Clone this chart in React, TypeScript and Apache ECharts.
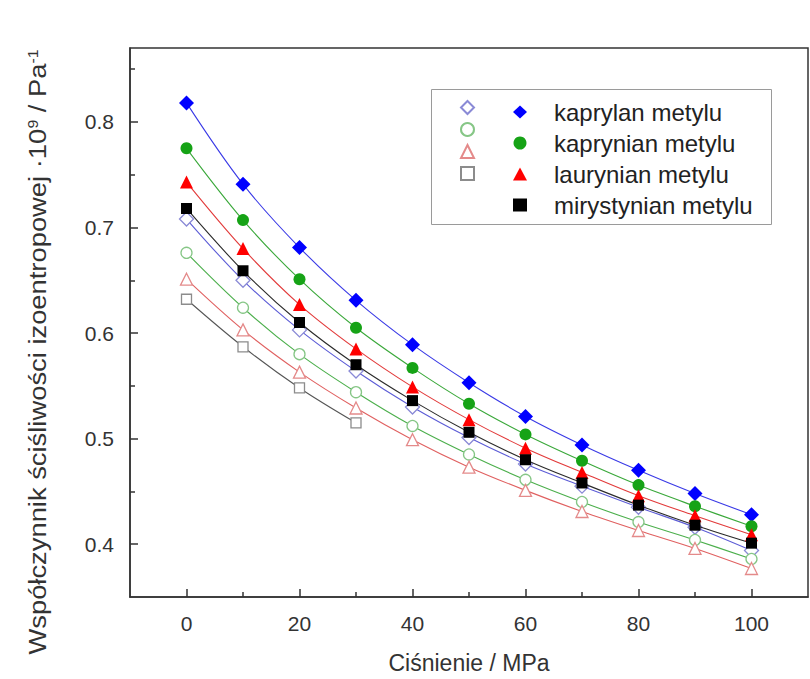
import React, { useEffect, useRef } from 'react';
import * as echarts from 'echarts';

// ---------- data ----------
const pressure = [0, 10, 20, 30, 40, 50, 60, 70, 80, 90, 100];
const seriesNames = ['kaprylan metylu', 'kaprynian metylu', 'laurynian metylu', 'mirystynian metylu'];
const openNames = ['kaprylan metylu (o)', 'kaprynian metylu (o)', 'laurynian metylu (o)', 'mirystynian metylu (o)'];

const kaprylanFilled = [0.818, 0.741, 0.681, 0.631, 0.589, 0.553, 0.521, 0.494, 0.470, 0.448, 0.428];
const kaprynianFilled = [0.775, 0.707, 0.651, 0.605, 0.567, 0.533, 0.504, 0.479, 0.456, 0.436, 0.417];
const laurynianFilled = [0.743, 0.680, 0.627, 0.585, 0.549, 0.518, 0.491, 0.468, 0.446, 0.427, 0.409];
const mirystynianFilled = [0.718, 0.659, 0.610, 0.570, 0.536, 0.506, 0.480, 0.458, 0.437, 0.418, 0.401];

const kaprylanOpen = [0.708, 0.650, 0.603, 0.564, 0.530, 0.501, 0.476, 0.455, 0.435, 0.416, 0.394];
const kaprynianOpen = [0.676, 0.624, 0.580, 0.544, 0.512, 0.485, 0.461, 0.440, 0.421, 0.404, 0.386];
const laurynianOpen = [0.651, 0.603, 0.563, 0.529, 0.499, 0.473, 0.451, 0.431, 0.413, 0.396, 0.377];
const mirystynianOpen = [0.632, 0.587, 0.548, 0.515];

const xMajorTicks = [0, 20, 40, 60, 80, 100];
const xMinorTicks = [10, 30, 50, 70, 90];
const yMajorTicks = [0.4, 0.5, 0.6, 0.7, 0.8];
const yMinorTicks = [0.45, 0.55, 0.65, 0.75, 0.85];

// ---------- styles ----------
const FONT = '"Liberation Sans", Arial, sans-serif';
const AXIS = '#333';
const symbols = ['diamond', 'circle', 'triangle', 'rect'];
const symbolSizes = [15, 12, 13, 11];
const filledColors = ['#0000ff', '#16a316', '#ff0000', '#000000'];
const filledLineColors = ['#3a3ae6', '#3aa83a', '#e23a3a', '#2a2a2a'];
const openColors = ['#8a8ad6', '#86c686', '#e48a8a', '#8c8c8c'];
const openLineColors = ['#5c5cd6', '#4caf4c', '#e06060', '#555555'];

const toPairs = (ys: number[]) => ys.map((y, i) => [pressure[i], y]);

export default function App() {
  const ref = useRef<HTMLDivElement>(null);

  useEffect(() => {
    document.body.style.margin = '0';
    if (!ref.current) return;
    const chart = echarts.init(ref.current, undefined, { renderer: 'svg' });

    const openData = [kaprylanOpen, kaprynianOpen, laurynianOpen, mirystynianOpen];
    const filledData = [kaprylanFilled, kaprynianFilled, laurynianFilled, mirystynianFilled];

    const openSeries = openData.map((d, i) => ({
      name: openNames[i],
      type: 'line',
      data: toPairs(d),
      smooth: 0.35,
      symbol: symbols[i],
      symbolSize: symbolSizes[i] - 1,
      itemStyle: { color: '#ffffff', borderColor: openColors[i], borderWidth: 1.3 },
      lineStyle: { color: openLineColors[i], width: 1.1 },
      z: 2,
    }));
    const filledSeries = filledData.map((d, i) => ({
      name: seriesNames[i],
      type: 'line',
      data: toPairs(d),
      smooth: 0.35,
      symbol: symbols[i],
      symbolSize: symbolSizes[i],
      itemStyle: { color: filledColors[i] },
      lineStyle: { color: filledLineColors[i], width: 1.1 },
      z: 3,
    }));

    const tickLabel = { fontSize: 21, color: AXIS, fontFamily: FONT };
    const tickLine = { color: AXIS, width: 1.5 };

    chart.setOption({
      animation: false,
      backgroundColor: '#ffffff',
      grid: { left: 130, top: 48, right: 2, bottom: 80, show: true, borderColor: AXIS, borderWidth: 1.5 },
      xAxis: [
        {
          type: 'value', min: -10, max: 110, position: 'bottom',
          name: 'Ciśnienie / MPa', nameLocation: 'middle', nameGap: 54,
          nameTextStyle: { fontSize: 23, color: AXIS, fontFamily: FONT },
          axisLine: { show: true, onZero: false, lineStyle: tickLine },
          axisTick: { show: true, inside: true, length: 8, customValues: xMajorTicks, lineStyle: tickLine },
          axisLabel: { ...tickLabel, margin: 16, customValues: xMajorTicks },
          splitLine: { show: false },
        },
        {
          type: 'value', min: -10, max: 110, position: 'bottom', offset: 0,
          axisLine: { show: false, onZero: false },
          axisTick: { show: true, inside: true, length: 5, customValues: xMinorTicks, lineStyle: tickLine },
          axisLabel: { show: false },
          splitLine: { show: false },
        },
      ],
      yAxis: [
        {
          type: 'value', min: 0.35, max: 0.87, position: 'left',
          axisLine: { show: true, onZero: false, lineStyle: tickLine },
          axisTick: { show: true, inside: true, length: 8, customValues: yMajorTicks, lineStyle: tickLine },
          axisLabel: { ...tickLabel, margin: 16, customValues: yMajorTicks, formatter: (v: number) => v.toFixed(1) },
          splitLine: { show: false },
        },
        {
          type: 'value', min: 0.35, max: 0.87, position: 'left', offset: 0,
          axisLine: { show: false, onZero: false },
          axisTick: { show: true, inside: true, length: 5, customValues: yMinorTicks, lineStyle: tickLine },
          axisLabel: { show: false },
          splitLine: { show: false },
        },
      ],
      legend: [
        {
          orient: 'vertical', left: 455, top: 95, itemWidth: 13, itemHeight: 13, itemGap: 7,
          selectedMode: false, formatter: () => '',
          textStyle: { fontSize: 24, height: 24, fontFamily: FONT },
          data: openNames.map((n, i) => ({ name: n, icon: symbols[i] })),
        },
        {
          orient: 'vertical', left: 508, top: 95, itemWidth: 14, itemHeight: 13, itemGap: 7,
          selectedMode: false,
          textStyle: { fontSize: 24, height: 24, color: '#222', fontFamily: FONT, padding: [0, 0, 0, 22] },
          data: seriesNames.map((n, i) => ({ name: n, icon: symbols[i] })),
        },
      ],
      graphic: [
        {
          type: 'rect', left: 431, top: 89, z: 0,
          shape: { width: 340, height: 135 },
          style: { fill: 'transparent', stroke: '#9a9a9a', lineWidth: 1 },
        },
        {
          type: 'text', x: 38, y: 352, rotation: Math.PI / 2, scaleX: 1.14,
          style: {
            text: '{a|Współczynnik ściśliwości izoentropowej ·10}{s|9}{a| / Pa}{s|-1}',
            align: 'center', verticalAlign: 'middle', fill: AXIS,
            rich: {
              a: { fontSize: 24, fontFamily: FONT, fill: AXIS, color: AXIS },
              s: { fontSize: 14, fontFamily: FONT, fill: AXIS, color: AXIS, verticalAlign: 'top', padding: [0, 0, 11, 0] },
            },
          },
        },
      ],
      series: [...openSeries, ...filledSeries],
    });

    return () => chart.dispose();
  }, []);

  return <div ref={ref} style={{ width: 810, height: 679 }} />;
}
